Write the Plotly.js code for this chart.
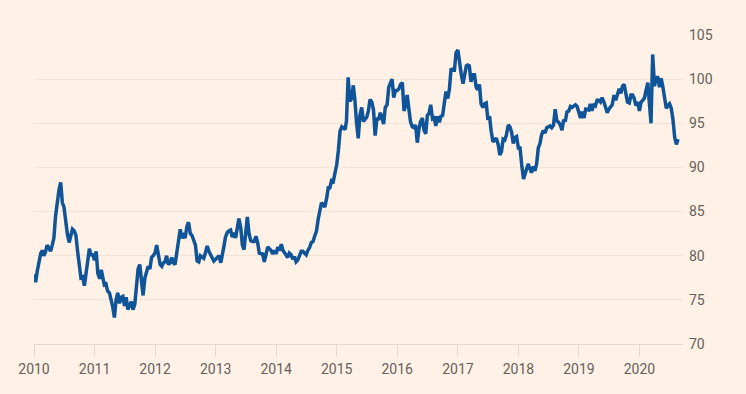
<!DOCTYPE html>
<html>
<head>
<meta charset="utf-8">
<script src="https://cdn.plot.ly/plotly-3.0.1.min.js"></script>
<style>
  html, body { margin: 0; padding: 0; background: #fff1e5; }
  #chart { width: 746px; height: 394px; }
</style>
</head>
<body>
<div id="chart"></div>
<script>
// US dollar index, sampled on the 1st, 11th and 21st of each month
const sampleDays = [1, 11, 21];
const v2010 = [77.9,77.0,78.3, 79.5,80.3,80.6, 80.0,80.4,81.2, 80.9,80.5,81.2, 82.0,84.5,86.3, 87.5,88.3,86.0,
               85.5,83.5,82.5, 81.5,82.2,83.0, 82.8,82.3,80.5, 78.5,77.5,77.6, 76.6,78.0,79.5, 80.8,80.0,80.2];
const v2011 = [79.5,80.5,78.0, 77.4,78.4,77.6, 76.7,76.8,76.0, 75.8,75.1,74.2, 73.0,75.0,75.8, 74.6,75.3,75.4,
               74.3,75.3,73.9, 74.3,74.8,73.9, 74.5,76.5,78.5, 79.0,77.5,75.5, 77.5,78.2,78.8, 78.5,79.8,80.0];
const v2012 = [80.3,81.2,80.0, 79.0,78.8,79.2, 79.3,80.0,79.0, 79.2,79.8,79.2, 79.0,80.5,81.5, 83.0,82.0,82.3,
               82.0,83.3,83.8, 82.5,82.3,81.7, 81.2,79.4,79.3, 80.0,79.8,79.7, 80.4,81.1,80.5, 80.1,79.7,79.4];
const v2013 = [79.6,79.8,80.0, 79.2,80.0,81.2, 82.1,82.6,82.8, 82.9,82.1,82.6, 82.0,83.0,84.2, 83.2,81.2,80.7,
               83.0,84.4,82.5, 81.7,81.6,81.6, 82.2,81.5,80.3, 80.2,80.2,79.3, 80.2,81.0,80.8, 80.6,80.2,80.6];
const v2014 = [80.2,81.0,80.6, 81.3,80.6,80.2, 80.1,79.8,80.3, 80.1,79.6,79.9, 79.3,79.5,80.0, 80.5,80.5,80.3,
               80.1,80.6,80.9, 81.5,81.6,82.2, 82.8,84.1,84.9, 86.0,85.8,85.5, 86.5,87.7,87.7, 88.5,88.4,89.3];
const v2015 = [90.3,91.9,94.1, 94.6,94.5,94.3, 95.3,100.2,97.5, 97.8,99.3,97.6, 95.0,93.3,95.9, 96.8,95.2,95.5,
               95.7,96.4,97.7, 97.4,96.5,93.6, 95.6,95.4,96.2, 95.6,94.9,96.8, 97.1,99.1,99.7, 100.0,97.9,98.7];
const v2016 = [98.7,98.9,99.4, 99.6,96.4,97.0, 98.2,96.8,95.2, 94.6,94.5,94.8, 92.8,94.3,95.2, 95.6,94.2,93.8,
               95.9,96.1,97.1, 95.5,95.6,94.7, 95.8,95.1,95.8, 95.9,97.7,98.6, 97.8,98.9,101.2, 101.0,101.0,103.0];
const v2017 = [103.3,101.8,100.6, 99.5,100.7,101.5, 101.6,101.5,99.7, 100.5,100.5,99.1, 98.8,99.4,97.2, 96.8,97.2,97.3,
               95.4,95.8,94.1, 92.9,93.1,93.3, 92.6,91.4,91.8, 93.2,93.1,93.7, 94.8,94.6,94.0, 92.7,93.4,93.5];
const v2018 = [92.2,92.2,90.3, 88.7,89.3,89.9, 90.4,89.9,89.4, 90.1,89.6,90.4, 92.2,92.7,93.7, 94.2,93.9,94.5,
               94.6,94.7,94.5, 94.8,96.6,95.3, 95.1,94.8,94.2, 95.4,95.2,96.3, 96.4,96.9,96.8, 96.9,97.1,96.9];
const v2019 = [96.2,95.6,96.3, 95.6,96.6,96.5, 96.5,97.2,96.4, 97.2,97.0,97.6, 97.6,97.4,97.9, 97.4,96.9,96.2,
               96.6,96.9,97.1, 98.2,97.6,98.2, 98.9,98.4,99.2, 99.4,98.3,97.4, 97.3,98.2,98.2, 97.8,97.0,97.4];
const v2020 = [96.4,97.4,97.6, 97.9,98.8,99.6, 97.3,95.0,102.8, 99.2,100.2,100.2, 99.1,100.1,99.2, 97.6,96.7,97.0,
               97.2,96.7,95.5, 93.4,92.6,93.2];

const years = [2010,2011,2012,2013,2014,2015,2016,2017,2018,2019,2020];
const yearValues = [v2010,v2011,v2012,v2013,v2014,v2015,v2016,v2017,v2018,v2019,v2020];
const yTicks = [70,75,80,85,90,95,100,105];
const xTickDates = ['2010-01-01','2011-01-01','2012-01-01','2013-01-01','2014-01-01','2015-01-01',
                    '2016-01-01','2017-01-01','2018-01-01','2019-01-01','2020-01-01'];
const xTickLabels = ['2010','2011','2012','2013','2014','2015','2016','2017','2018','2019','2020'];

const dates = [], values = [];
years.forEach((yr, yi) => {
  const vals = yearValues[yi];
  vals.forEach((v, i) => {
    const m = Math.floor(i / 3) + 1;
    const d = sampleDays[i % 3];
    dates.push(yr + '-' + String(m).padStart(2,'0') + '-' + String(d).padStart(2,'0'));
    values.push(v);
  });
});

const fontFam = '"Liberation Sans Narrow", "Roboto", sans-serif';
Plotly.newPlot('chart', [{
  x: dates, y: values, type: 'scatter', mode: 'lines',
  line: {color: '#0f5499', width: 3.5, shape: 'linear'},
  hoverinfo: 'skip'
}], {
  width: 746, height: 394,
  paper_bgcolor: '#fff1e5', plot_bgcolor: '#fff1e5',
  margin: {l: 34, r: 63, t: 35, b: 50},
  showlegend: false,
  font: {family: fontFam, size: 14, color: '#66605c'},
  xaxis: {
    type: 'date', range: ['2010-01-01', '2020-09-20'],
    tickvals: xTickDates, ticktext: xTickLabels,
    ticks: 'outside', ticklen: 12, tickcolor: '#e4d8cc', tickwidth: 1,
    showline: true, linecolor: '#e4d8cc', linewidth: 1,
    showgrid: false, zeroline: false,
    tickfont: {family: fontFam, size: 14, color: '#66605c'}
  },
  yaxis: {
    side: 'right', range: [70, 105],
    tickvals: yTicks, ticktext: yTicks.map(String),
    showgrid: true, gridcolor: '#f0e3d7', gridwidth: 1,
    zeroline: false, showline: false, ticks: '', ticklabelstandoff: 5,
    tickfont: {family: fontFam, size: 14, color: '#66605c'}
  }
}, {displayModeBar: false, staticPlot: true});
</script>
</body>
</html>
